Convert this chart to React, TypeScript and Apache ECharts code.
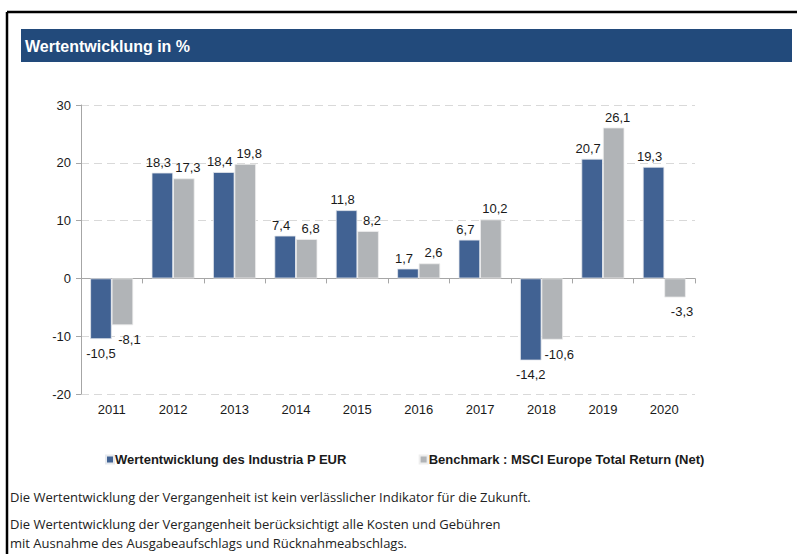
import React, { useEffect, useRef } from "react";
import * as echarts from "echarts";

const categories = ["2011", "2012", "2013", "2014", "2015", "2016", "2017", "2018", "2019", "2020"];
const fundValues = [-10.5, 18.3, 18.4, 7.4, 11.8, 1.7, 6.7, -14.2, 20.7, 19.3];
const benchValues = [-8.1, 17.3, 19.8, 6.8, 8.2, 2.6, 10.2, -10.6, 26.1, -3.3];
const seriesNames = ["Wertentwicklung des Industria P EUR", "Benchmark : MSCI Europe Total Return (Net)"];
const title = "Wertentwicklung in %";
const footerLines = [
  "Die Wertentwicklung der Vergangenheit ist kein verlässlicher Indikator für die Zukunft.",
  "Die Wertentwicklung der Vergangenheit berücksichtigt alle Kosten und Gebühren",
  "mit Ausnahme des Ausgabeaufschlags und Rücknahmeabschlags.",
];

const BLUE = "#416293";
const GRAY = "#b1b4b7";
const TXT = "#1a1a1a";
const FF = "'Liberation Sans', Arial, sans-serif";

// label style per series: horizontal shift for positive / negative values
function mkData(vals: number[], posShift: number, negShift: number) {
  return vals.map((v) => ({
    value: v,
    label:
      v < 0
        ? { position: "bottom", distance: 8, offset: [negShift, 0] }
        : { position: "top", distance: 4, offset: [posShift, 0] },
  }));
}

export default function App() {
  const ref = useRef<HTMLDivElement>(null);
  useEffect(() => {
    if (!ref.current) return;
    const chart = echarts.init(ref.current, null, { renderer: "svg" });
    const labelCfg = {
      show: true,
      fontFamily: FF,
      fontSize: 13,
      color: TXT,
      formatter: (p: any) => String(p.value).replace(".", ","),
    };
    chart.setOption({
      animation: false,
      backgroundColor: "#ffffff",
      textStyle: { fontFamily: FF },
      grid: { left: 81, right: 102, top: 105, bottom: 160, containLabel: false },
      legend: {
        left: 100,
        top: 448,
        itemWidth: 8,
        itemHeight: 8,
        itemGap: 72,
        icon: "rect",
        textStyle: {
          fontFamily: FF,
          fontSize: 13,
          fontWeight: "bold",
          color: TXT,
          padding: [0, 0, 0, -4],
        },
        data: seriesNames,
      },
      xAxis: [
        {
          type: "category",
          data: categories,
          position: "bottom",
          axisLine: { onZero: true, lineStyle: { color: "#a6a6a6", width: 1 } },
          axisTick: { show: true, length: 5, lineStyle: { color: "#a6a6a6" } },
          axisLabel: { show: false },
          splitLine: { show: false },
        },
        {
          type: "category",
          data: categories,
          position: "bottom",
          axisLine: { show: false, onZero: false },
          axisTick: { show: false },
          axisLabel: { show: true, fontFamily: FF, fontSize: 13, color: TXT, margin: 9 },
          splitLine: { show: false },
        },
      ],
      yAxis: {
        type: "value",
        min: -20,
        max: 30,
        interval: 10,
        axisLine: { show: true, lineStyle: { color: "#a6a6a6" } },
        axisTick: { show: true, length: 5, lineStyle: { color: "#a6a6a6" } },
        axisLabel: { fontFamily: FF, fontSize: 13, color: TXT, margin: 10 },
        splitLine: { show: true, lineStyle: { color: "#d9d9d9", type: [8, 5], width: 1 } },
      },
      series: [
        {
          name: seriesNames[0],
          type: "bar",
          xAxisIndex: 0,
          data: mkData(fundValues, -4, 0),
          itemStyle: { color: BLUE, borderColor: "#e6e9ee", borderWidth: 0.8 },
          barGap: "0%",
          barCategoryGap: "30%",
          label: labelCfg,
        },
        {
          name: seriesNames[1],
          type: "bar",
          xAxisIndex: 0,
          data: mkData(benchValues, 4, 7),
          itemStyle: { color: GRAY, borderColor: "#eeeeee", borderWidth: 0.8 },
          barGap: "0%",
          barCategoryGap: "30%",
          label: labelCfg,
        },
      ],
      graphic: [
        { type: "line", shape: { x1: 7, y1: 12, x2: 797, y2: 12 }, style: { stroke: "#000", lineWidth: 2.5 } },
        { type: "line", shape: { x1: 7, y1: 12, x2: 7, y2: 554 }, style: { stroke: "#000", lineWidth: 2.5 } },
        { type: "rect", shape: { x: 21, y: 29, width: 771, height: 33 }, style: { fill: "#224a7b" } },
        {
          type: "text",
          x: 25,
          y: 46,
          style: {
            text: title,
            fill: "#ffffff",
            fontFamily: FF,
            fontSize: 16,
            fontWeight: "bold",
            verticalAlign: "middle",
          },
        },
        ...footerLines.map((t, i) => ({
          type: "text",
          x: 10,
          y: [497, 524, 543][i],
          style: {
            text: t,
            fill: "#222222",
            fontFamily: "'Open Sans', sans-serif",
            fontSize: 13,
            verticalAlign: "middle",
          },
        })),
      ],
    });
    return () => chart.dispose();
  }, []);
  return (
    <div
      ref={ref}
      style={{ position: "fixed", left: 0, top: 0, width: 797, height: 554, background: "#fff" }}
    />
  );
}
